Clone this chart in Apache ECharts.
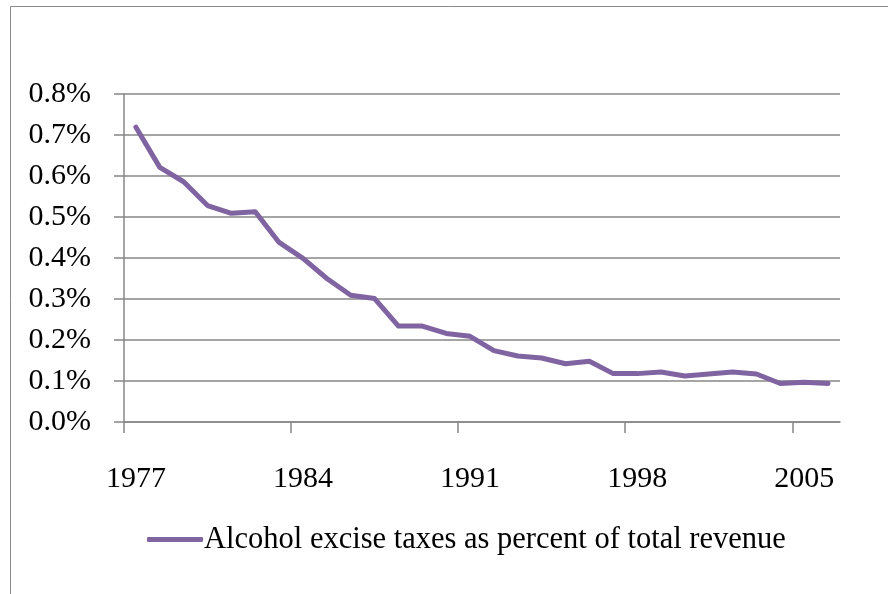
<!DOCTYPE html>
<html>
<head>
<meta charset="utf-8">
<script src="https://cdn.jsdelivr.net/npm/echarts@6/dist/echarts.min.js"></script>
<style>
html,body{margin:0;padding:0;background:#fff;}
#chart{width:888px;height:594px;}
</style>
</head>
<body>
<div id="chart"></div>
<script>
var years = [1977,1978,1979,1980,1981,1982,1983,1984,1985,1986,
             1987,1988,1989,1990,1991,1992,1993,1994,1995,1996,
             1997,1998,1999,2000,2001,2002,2003,2004,2005,2006];
var alcoholShare = [0.719,0.621,0.586,0.528,0.509,0.513,0.438,0.399,0.350,0.309,
                    0.301,0.234,0.234,0.216,0.209,0.174,0.161,0.156,0.142,0.148,
                    0.118,0.118,0.122,0.112,0.117,0.122,0.117,0.094,0.097,0.094];
var labelYears = [1977,1984,1991,1998,2005];
var seriesName = 'Alcohol excise taxes as percent of total revenue';

var font = '"Liberation Serif", "DejaVu Serif", serif';
var gridColor = '#878787';

// each year occupies one band; ticks sit on the left boundary of labelled years
var tickPositions = labelYears.map(function (y) { return y - 0.5; });
var points = years.map(function (y, i) { return [y, alcoholShare[i]]; });

var chart = echarts.init(document.getElementById('chart'), null, {renderer: 'canvas'});
chart.setOption({
  animation: false,
  backgroundColor: '#ffffff',
  graphic: [{
    type: 'rect',
    shape: {x: 10.5, y: 6.5, width: 1000, height: 1000},
    style: {fill: 'none', stroke: '#8a8a8a', lineWidth: 1},
    silent: true, z: 0
  }],
  grid: {left: 124, right: 48, top: 94, bottom: 172},
  xAxis: {
    type: 'value',
    min: years[0] - 0.5,
    max: years[years.length - 1] + 0.5,
    axisLine: {show: true, lineStyle: {color: gridColor, width: 1.5}},
    axisTick: {show: true, customValues: tickPositions, length: 11,
      lineStyle: {color: gridColor, width: 1.5}},
    axisLabel: {customValues: labelYears, margin: 42, fontFamily: font, fontSize: 30, color: '#000',
      formatter: function (v) { return String(v); }},
    splitLine: {show: false}
  },
  yAxis: {
    type: 'value',
    min: 0, max: 0.8, interval: 0.1,
    axisLine: {show: true, lineStyle: {color: gridColor, width: 1.5}},
    axisTick: {show: true, length: 10, lineStyle: {color: gridColor, width: 1.5}},
    axisLabel: {margin: 33, fontFamily: font, fontSize: 30, color: '#000',
      formatter: function (v) { return v.toFixed(1) + '%'; }},
    splitLine: {show: true, lineStyle: {color: gridColor, width: 1.5}}
  },
  legend: {
    show: true,
    left: 142, top: 519,
    icon: 'roundRect',
    itemWidth: 56, itemHeight: 5, itemGap: 10,
    textStyle: {fontFamily: font, fontSize: 30.5, color: '#000', padding: [0,0,0,-4]},
    data: [seriesName]
  },
  series: [{
    name: seriesName,
    type: 'line',
    data: points,
    symbol: 'none',
    lineStyle: {color: '#8064a2', width: 5, join: 'round', cap: 'round'},
    itemStyle: {color: '#8064a2'}
  }]
});
</script>
</body>
</html>
